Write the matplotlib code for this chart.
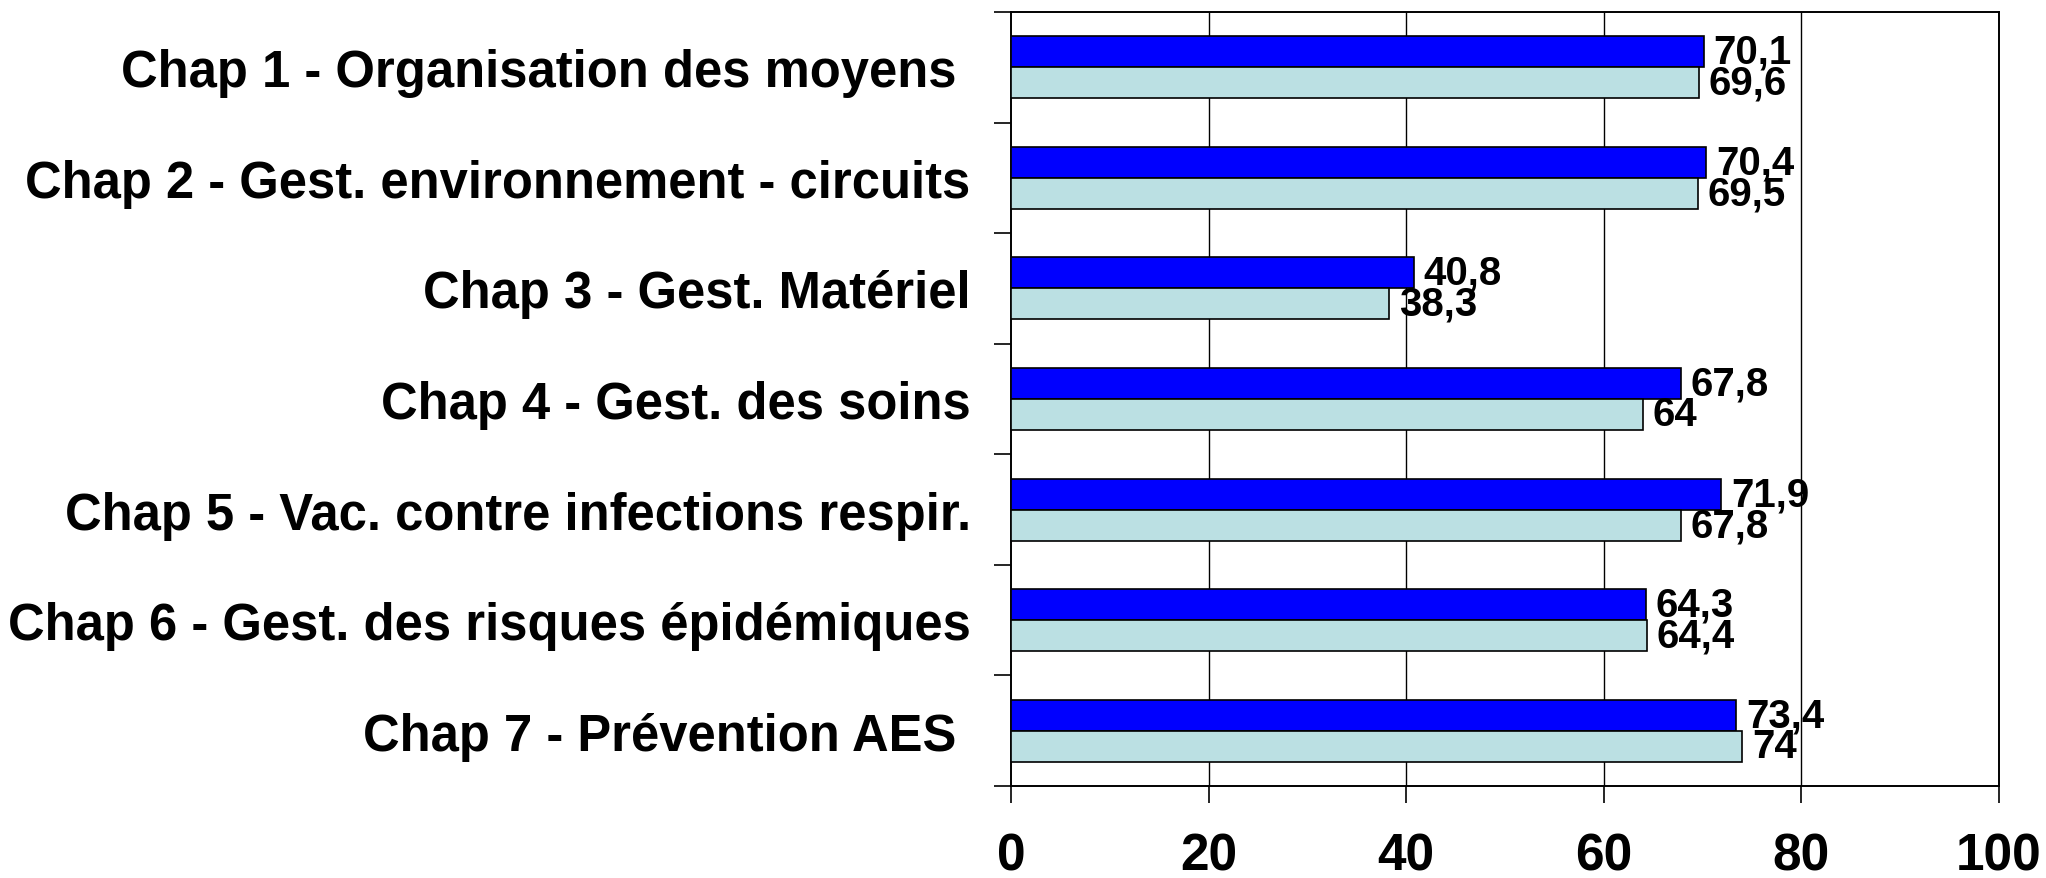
import numpy as np
import matplotlib
matplotlib.use("Agg")
import matplotlib.pyplot as plt

plt.rcParams['font.family'] = ['Liberation Sans', 'DejaVu Sans']
plt.rcParams['font.weight'] = 'bold'

# Data
chapters = [
    "Chap 1 - Organisation des moyens ",
    "Chap 2 - Gest. environnement - circuits",
    "Chap 3 - Gest. Matériel",
    "Chap 4 - Gest. des soins",
    "Chap 5 - Vac. contre infections respir.",
    "Chap 6 - Gest. des risques épidémiques",
    "Chap 7 - Prévention AES ",
]
serie_1 = [70.1, 70.4, 40.8, 67.8, 71.9, 64.3, 73.4]
serie_2 = [69.6, 69.5, 38.3, 64, 67.8, 64.4, 74]
x_ticks = [0, 20, 40, 60, 80, 100]

fig = plt.figure(figsize=(20.46, 8.79), dpi=100)
ax = fig.add_axes([0.4941, 0.1047, 0.977 - 0.4941, 0.9852 - 0.1047])

y = np.arange(len(chapters))
h = 0.28
ax.barh(y - h / 2, serie_1, height=h, color='#0000FF', edgecolor='black', linewidth=1.2, zorder=3)
ax.barh(y + h / 2, serie_2, height=h, color='#BBE0E3', edgecolor='black', linewidth=1.2, zorder=3)

def fmt(v):
    return f"{v:g}".replace('.', ',')

# value labels, right of each bar
for yi, v in zip(y - h / 2, serie_1):
    ax.annotate(fmt(v), (v, yi), xytext=(7, 0), textcoords='offset points',
                va='center', ha='left', fontsize=29, fontweight='bold', zorder=4)
for yi, v in zip(y + h / 2, serie_2):
    ax.annotate(fmt(v), (v, yi), xytext=(7, 0), textcoords='offset points',
                va='center', ha='left', fontsize=29, fontweight='bold', zorder=4)

ax.set_xlim(0, 100)
ax.set_ylim(len(chapters) - 0.5, -0.5)

ax.set_xticks(x_ticks)
ax.set_xticklabels([str(t) for t in x_ticks], fontsize=37, fontweight='bold')
ax.tick_params(axis='x', direction='out', length=12, width=1.2, pad=21, colors='black')

ax.set_yticks(y)
ax.set_yticklabels(chapters, fontsize=36.5, fontweight='bold')
ax.tick_params(axis='y', which='major', length=0, pad=29)
ax.set_yticks(np.arange(len(chapters) + 1) - 0.5, minor=True)
ax.tick_params(axis='y', which='minor', direction='out', length=12, width=1.2)

for xv in x_ticks[1:-1]:
    ax.axvline(xv, color='black', linewidth=1.0, zorder=1)

for s in ax.spines.values():
    s.set_linewidth(1.4)
    s.set_color('black')

fig.savefig('out.png', dpi=100)
